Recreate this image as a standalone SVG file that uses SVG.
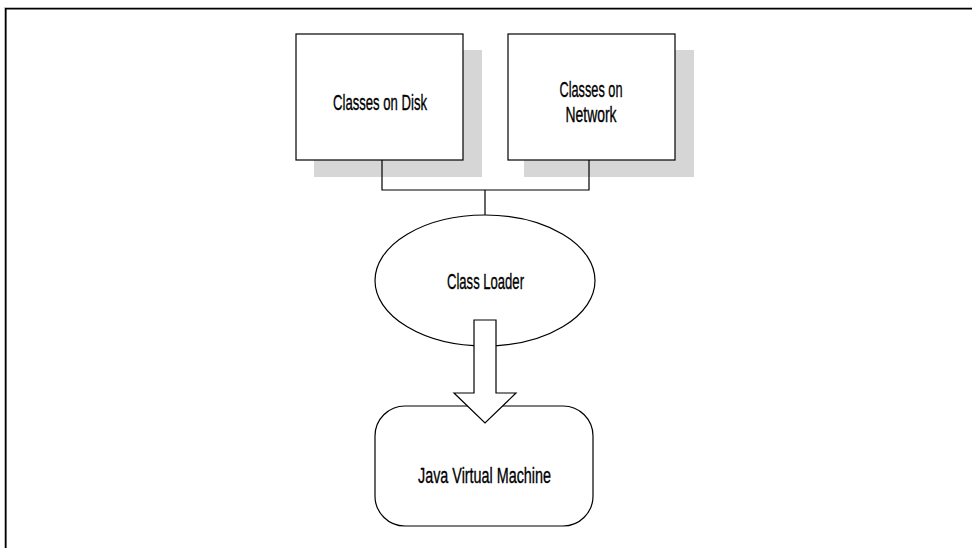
<svg xmlns="http://www.w3.org/2000/svg" width="972" height="548" viewBox="0 0 972 548">
<style>
.node{fill:#fff;stroke:#000;stroke-width:1.2}
.shadow{fill:#d6d6d6;stroke:none}
.conn{fill:none;stroke:#000;stroke-width:1.2}
.lbl{font-family:"Liberation Sans Narrow","Liberation Sans",Arial,sans-serif;font-size:22px;fill:#000;stroke:#000;stroke-width:0.35;text-anchor:middle}
</style>
<rect width="972" height="548" fill="#fff"/>
<path d="M4.5,548 V7.5 H972" fill="none" stroke="#bbb" stroke-width="1"/>
<path d="M5.8,548 V8.8 H972" fill="none" stroke="#000" stroke-width="1.6"/>
<g id="disk">
<rect class="shadow" x="314" y="50" width="168" height="127"/>
<rect class="node" x="296" y="34" width="167" height="126"/>
<text class="lbl" x="380" y="110" textLength="94" lengthAdjust="spacingAndGlyphs">Classes on Disk</text>
</g>
<g id="network">
<rect class="shadow" x="524" y="50" width="170" height="127"/>
<rect class="node" x="508" y="34" width="167" height="126"/>
<text class="lbl" x="591" y="97" textLength="63" lengthAdjust="spacingAndGlyphs">Classes on</text>
<text class="lbl" x="591" y="122" textLength="51" lengthAdjust="spacingAndGlyphs">Network</text>
</g>
<g id="connectors">
<path class="conn" d="M382,160 V190 H589 V160 M485,190 V215"/>
</g>
<g id="loader">
<ellipse class="node" cx="485" cy="280.5" rx="110" ry="65.5"/>
<text class="lbl" x="485.5" y="289" textLength="77" lengthAdjust="spacingAndGlyphs">Class Loader</text>
</g>
<g id="jvm">
<rect class="node" x="375" y="406" width="218" height="120" rx="30" ry="30"/>
<text class="lbl" x="484.5" y="483" textLength="133" lengthAdjust="spacingAndGlyphs">Java Virtual Machine</text>
</g>
<g id="arrow">
<polygon class="node" points="474,320 496,320 496,393 516,393 485,423 454,393 474,393"/>
</g>
</svg>
